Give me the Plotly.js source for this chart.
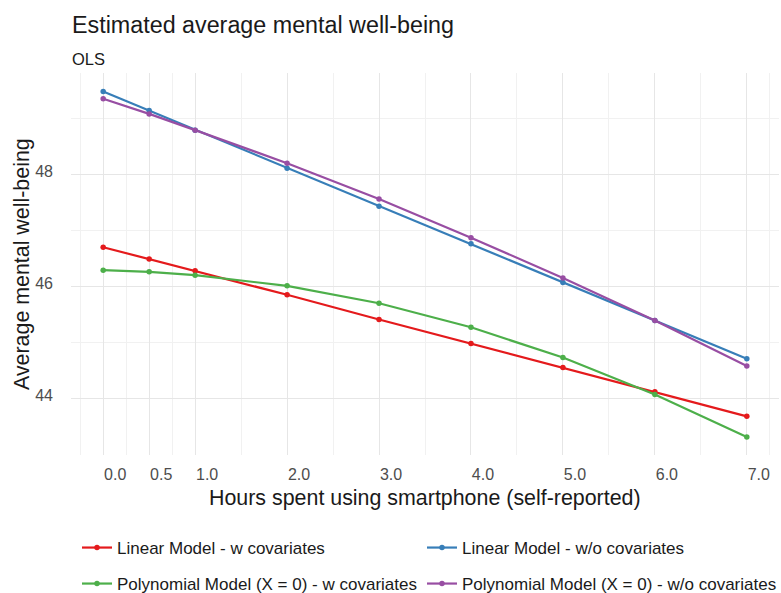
<!DOCTYPE html>
<html>
<head>
<meta charset="utf-8">
<script src="https://cdn.plot.ly/plotly-3.0.1.min.js"></script>
<style>html,body{margin:0;padding:0;background:#fff;}#chart{width:781px;height:593px;}</style>
</head>
<body>
<div id="chart"></div>
<script>
var hours = [0, 0.5, 1, 2, 3, 4, 5, 6, 7];
var tickLabels = ["0.0", "0.5", "1.0", "2.0", "3.0", "4.0", "5.0", "6.0", "7.0"];
var linearW = [46.70, 46.49, 46.28, 45.85, 45.41, 44.98, 44.55, 44.12, 43.68];
var linearWo = [49.48, 49.14, 48.79, 48.11, 47.43, 46.76, 46.07, 45.39, 44.71];
var polyW = [46.29, 46.26, 46.20, 46.01, 45.70, 45.27, 44.73, 44.07, 43.31];
var polyWo = [49.35, 49.08, 48.79, 48.20, 47.56, 46.87, 46.15, 45.39, 44.58];
var seriesNames = ["Linear Model - w covariates", "Linear Model - w/o covariates",
  "Polynomial Model (X = 0) - w covariates", "Polynomial Model (X = 0) - w/o covariates"];
var colors = ["#E41A1C", "#377EB8", "#4DAF4A", "#984EA3"];

var font = "Liberation Sans, Arial, Helvetica, sans-serif";
function tr(y, i, leg) {
  return {x: hours, y: y, type: "scatter", mode: "lines+markers", name: seriesNames[i],
    line: {color: colors[i], width: 2.2}, marker: {color: colors[i], size: 5.5},
    legend: leg};
}
var data = [tr(linearW, 0, "legend"), tr(linearWo, 1, "legend2"), tr(polyW, 2, "legend3"), tr(polyWo, 3, "legend4")];

function leg(xpx, ypx) {
  return {xref: "container", yref: "container", x: xpx / 781, y: 1 - ypx / 593,
    xanchor: "left", yanchor: "middle", bgcolor: "rgba(0,0,0,0)", borderwidth: 0,
    font: {family: font, size: 17, color: "#1a1a1a"}};
}

var layout = {
  width: 781, height: 593,
  paper_bgcolor: "#fff", plot_bgcolor: "#fff",
  margin: {l: 71, r: 2, t: 73, b: 138, autoexpand: false},
  font: {family: font},
  title: {text: "Estimated average mental well-being", x: 72 / 781, xanchor: "left",
    xref: "container", yref: "container", y: 1 - 25 / 593, yanchor: "middle",
    font: {family: font, size: 23.3, color: "#1a1a1a"}},
  xaxis: {
    automargin: false,
    range: [-0.35, 7.35], tickmode: "array", tickvals: hours, ticktext: tickLabels,
    showgrid: true, gridcolor: "#e6e6e6", gridwidth: 1, zeroline: false, showline: false,
    ticks: "", ticklabelshift: 12, ticklabelstandoff: 8,
    tickfont: {family: font, size: 16, color: "#4d4d4d"},
    minor: {tickmode: "array", tickvals: [-0.25, 0.25, 0.75, 1.5, 2.5, 3.5, 4.5, 5.5, 6.5, 7.25],
      showgrid: true, gridcolor: "#f1f1f1", gridwidth: 1},
    title: {text: ""}
  },
  yaxis: {
    automargin: false,
    range: [42.99, 49.81], tickmode: "array", tickvals: [44, 46, 48], ticktext: ["44", "46", "48"],
    showgrid: true, gridcolor: "#e6e6e6", gridwidth: 1, zeroline: false, showline: false,
    ticks: "", ticklabelstandoff: 17, ticklabelshift: -3,
    tickfont: {family: font, size: 16, color: "#4d4d4d"},
    minor: {tickmode: "array", tickvals: [43, 45, 47, 49], showgrid: true, gridcolor: "#f1f1f1", gridwidth: 1},
    title: {text: ""}
  },
  annotations: [
    {text: "OLS", xref: "paper", yref: "paper", x: -0.002, y: 1 + (73 - 59) / 382,
      xanchor: "left", yanchor: "middle", showarrow: false,
      font: {family: font, size: 16.5, color: "#1a1a1a"}},
    {text: "Hours spent using smartphone (self-reported)", xref: "paper", yref: "paper",
      x: 0.5, y: -(498 - 455) / 382, xanchor: "center", yanchor: "middle", showarrow: false,
      font: {family: font, size: 21.4, color: "#1a1a1a"}},
    {text: "Average mental well-being", xref: "paper", yref: "paper", textangle: -90,
      x: (22 - 71) / 708, y: 0.5, xanchor: "center", yanchor: "middle", showarrow: false,
      font: {family: font, size: 21.4, color: "#1a1a1a"}}
  ],
  legend: leg(77, 548),
  legend2: leg(422, 548),
  legend3: leg(77, 584),
  legend4: leg(422, 584),
  showlegend: true
};

Plotly.newPlot("chart", data, layout, {displayModeBar: false, staticPlot: true});
</script>
</body>
</html>
